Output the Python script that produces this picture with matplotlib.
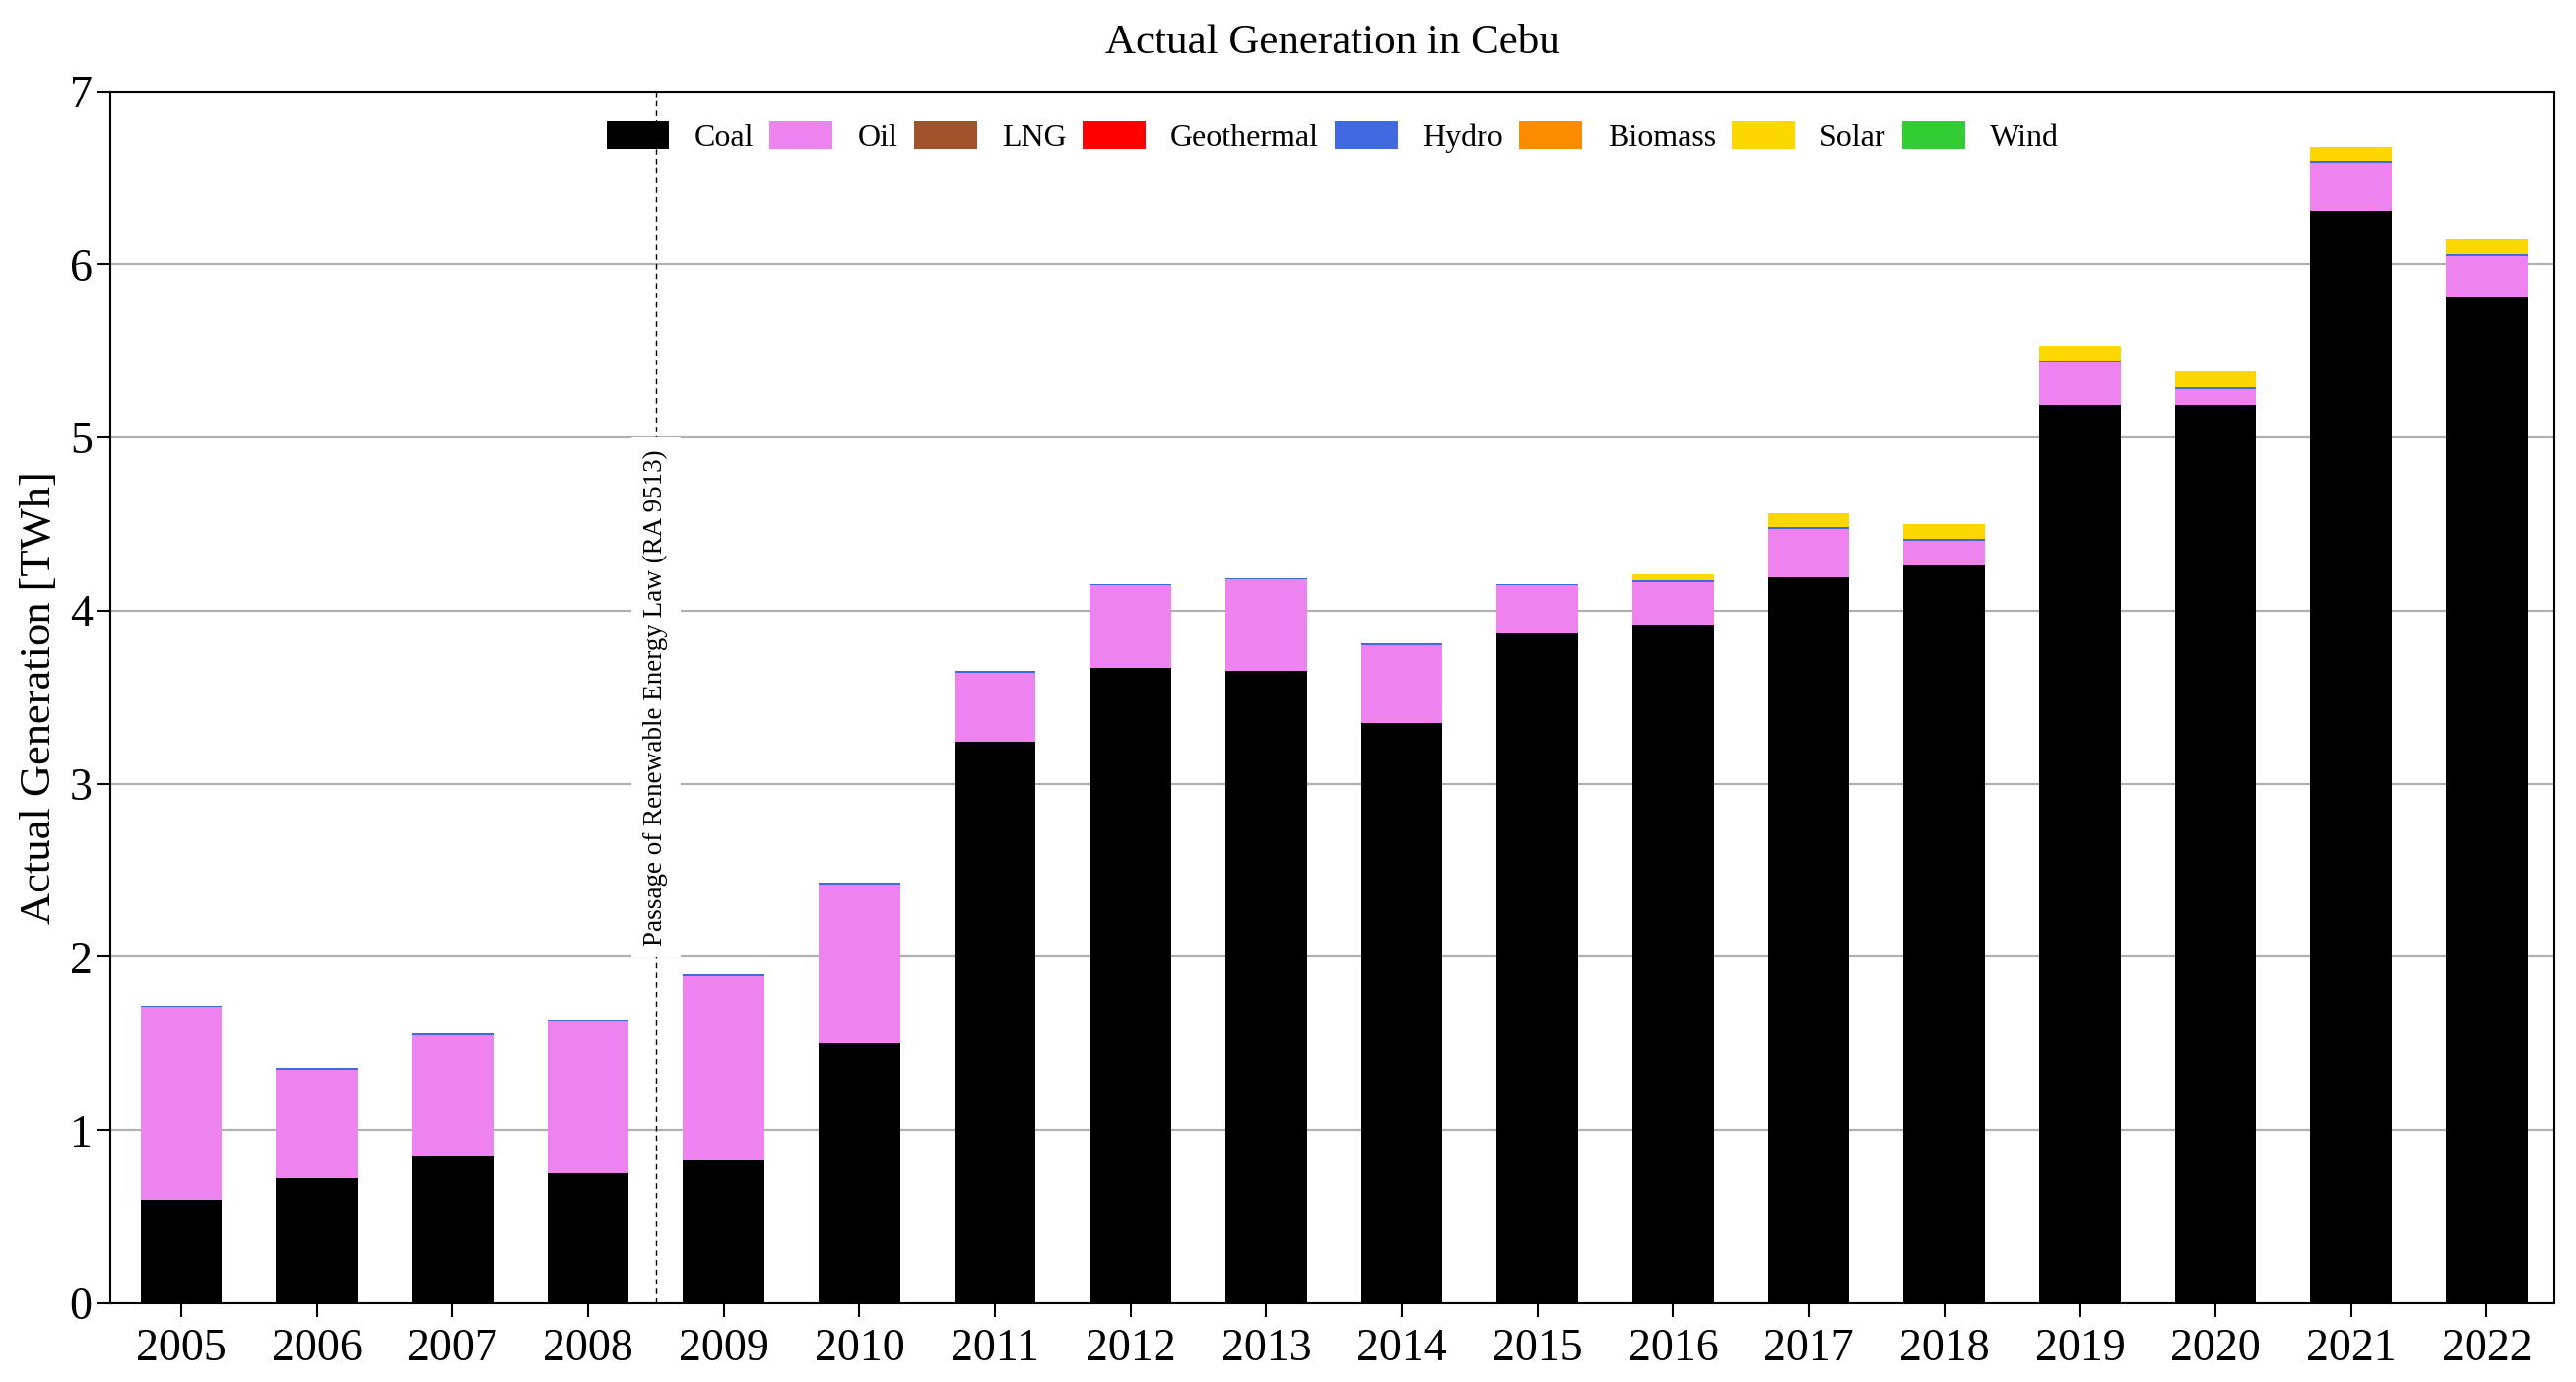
import numpy as np
import matplotlib
matplotlib.use("Agg")
import matplotlib.pyplot as plt

# 字体
plt.rcParams['font.family'] = ['Liberation Serif', 'DejaVu Serif']

years = ['2005', '2006', '2007', '2008', '2009', '2010', '2011', '2012', '2013',
         '2014', '2015', '2016', '2017', '2018', '2019', '2020', '2021', '2022']

coal = [0.60, 0.72, 0.845, 0.75, 0.825, 1.50, 3.245, 3.67, 3.65,
        3.35, 3.87, 3.915, 4.194, 4.263, 5.19, 5.19, 6.31, 5.81]
oil = [1.11, 0.63, 0.705, 0.88, 1.065, 0.92, 0.395, 0.475, 0.53,
       0.45, 0.275, 0.25, 0.279, 0.142, 0.245, 0.09, 0.28, 0.24]
lng = [0.0] * 18
geothermal = [0.0] * 18
hydro = [0.01] * 18
biomass = [0.0] * 18
solar = [0.0, 0.0, 0.0, 0.0, 0.0, 0.0, 0.0, 0.0, 0.0,
         0.0, 0.0, 0.035, 0.08, 0.085, 0.085, 0.09, 0.08, 0.085]
wind = [0.0] * 18

sources = ['Coal', 'Oil', 'LNG', 'Geothermal', 'Hydro', 'Biomass', 'Solar', 'Wind']
series = [coal, oil, lng, geothermal, hydro, biomass, solar, wind]
colors = ['black', 'violet', 'sienna', 'red', 'royalblue', 'darkorange', 'gold', 'limegreen']

fig = plt.figure(figsize=(26.15, 14.03), dpi=100)
ax = fig.add_axes([0.043, 0.057, 0.9487, 0.877])

x = np.arange(len(years))
bottom = np.zeros(len(years))
for name, vals, c in zip(sources, series, colors):
    vals = np.array(vals)
    ax.bar(x, vals, width=0.6, bottom=bottom, color=c, label=name, zorder=3)
    bottom += vals

# 网格
ax.yaxis.grid(True, color='#b0b0b0', linewidth=1.6, zorder=0)
ax.set_axisbelow(True)

ax.set_xlim(-0.52, 17.5)
ax.set_ylim(0, 7)
ax.set_xticks(x)
ax.set_xticklabels(years, fontsize=33)
ax.set_yticks(range(8))
ax.tick_params(axis='y', labelsize=33, length=10, width=1.5)
ax.tick_params(axis='x', length=10, width=1.5, pad=8)
for s in ax.spines.values():
    s.set_linewidth(1.5)

ax.set_ylabel('Actual Generation [TWh]', fontsize=32, labelpad=8)
ax.set_title('Actual Generation in Cebu', fontsize=31, pad=28)

# RA 9513 分界线
ax.axvline(3.5, color='black', linestyle='--', linewidth=1.0, dashes=(4, 3), zorder=4)
ax.text(3.5, 3.5, 'Passage of Renewable Energy Law (RA 9513)', rotation=90,
        ha='center', va='center', fontsize=19.5, zorder=5,
        bbox=dict(facecolor='white', edgecolor='none', pad=9))

ax.legend(loc='upper center', bbox_to_anchor=(0.5, 0.999), ncol=8, frameon=False,
          fontsize=23, handlelength=2.0, handleheight=1.0, handletextpad=0.8,
          columnspacing=0.5)

fig.savefig('out.png', dpi=100)
